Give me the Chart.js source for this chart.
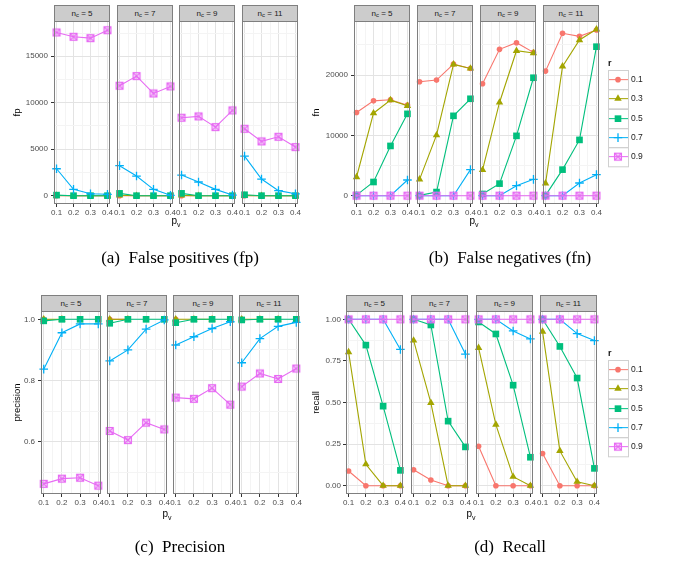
<!DOCTYPE html>
<html>
<head>
<meta charset="utf-8">
<script src="https://cdn.jsdelivr.net/npm/chart.js@4/dist/chart.umd.min.js"></script>
<style>
  body { margin: 0; background: #fff; }
  #fig { position: relative; width: 676px; height: 563px; overflow: hidden; font-family: "Liberation Sans", Arial, sans-serif; }
  #fig canvas { position: absolute; }
  .strip { position: absolute; box-sizing: border-box; background: #cccccc; border: 1px solid #7f7f7f;
           font-size: 8px; color: #1a1a1a; text-align: center; white-space: nowrap; }
  .strip sub { font-size: 6px; vertical-align: -1px; line-height: 0; }
  .xtitle { position: absolute; font-size: 10px; color: #000; transform: translate(-50%, -50%); white-space: nowrap; }
  .xtitle sub { font-size: 7px; line-height: 0; }
  .caption { position: absolute; font-family: "Liberation Serif", "Times New Roman", serif; font-size: 17px;
             color: #000; white-space: pre; transform: translate(-50%, -50%); }
</style>
</head>
<body>
<div id="fig"></div>
<script>
//Facets and x values
const pvValues = [0.1, 0.2, 0.3, 0.4];
const ncValues = [5, 7, 9, 11];
const rValues = ['0.1', '0.3', '0.5', '0.7', '0.9'];

//Every series: one row per n_c facet (5, 7, 9, 11), one value per p_v
//False positives
const fpR01 = [[0, 0, 0, 0], [0, 0, 0, 0], [0, 0, 0, 0], [0, 0, 0, 0]];
const fpR03 = [[20, 0, 0, 0], [40, 0, 0, 0], [30, 0, 0, 0], [20, 0, 0, 0]];
const fpR05 = [[60, 0, 0, 0], [250, 0, 0, 0], [250, 0, 0, 0], [100, 0, 0, 0]];
const fpR07 = [[2900, 680, 200, 150], [3230, 2110, 680, 40], [2220, 1470, 680, 70], [4260, 1790, 540, 200]];
const fpR09 = [[17560, 17100, 16950, 17800], [11830, 12870, 11000, 11760], [8390, 8530, 7380, 9175], [7200, 5840, 6340, 5230]];

//False negatives
const fnR01 = [[13800, 15730, 15900, 15010], [18900, 19170, 21830, 21100], [18560, 24270, 25370, 23770], [20660, 26930, 26430, 27480]];
const fnR03 = [[3100, 13680, 15840, 14900], [2700, 10030, 21770, 21100], [4270, 15460, 24040, 23650], [2050, 21440, 25820, 27590]];
const fnR05 = [[100, 2270, 8250, 13570], [50, 600, 13240, 16070], [280, 2000, 9920, 19560], [50, 4320, 9250, 24710]];
const fnR07 = [[0, 0, 0, 2600], [0, 0, 0, 4320], [0, 0, 1660, 2710], [0, 0, 2100, 3490]];
const fnR09 = [[0, 0, 0, 0], [0, 0, 0, 0], [0, 0, 0, 0], [0, 0, 0, 0]];

//Precision (null where nothing was found)
const precR01 = [[1, null, null, null], [1, 1, null, null], [1, null, null, null], [1, null, null, null]];
const precR03 = [[1, 1, null, null], [1, 1, null, null], [1, 1, 1, null], [1, 1, 1, null]];
const precR05 = [[0.995, 1, 1, 1], [0.987, 1, 1, 1], [0.989, 1, 1, 1], [0.998, 1, 1, 1]];
const precR07 = [[0.837, 0.956, 0.985, 0.985], [0.864, 0.900, 0.968, 0.998], [0.916, 0.943, 0.970, 0.992], [0.858, 0.937, 0.977, 0.990]];
const precR09 = [[0.462, 0.479, 0.482, 0.456], [0.635, 0.605, 0.662, 0.640], [0.744, 0.740, 0.775, 0.721], [0.780, 0.823, 0.805, 0.839]];

//Recall
const recR01 = [[0.088, 0, 0, 0], [0.096, 0.034, 0, 0], [0.237, 0, 0, 0], [0.193, 0, 0, 0]];
const recR03 = [[0.803, 0.129, 0, 0], [0.873, 0.498, 0, 0], [0.829, 0.367, 0.054, 0], [0.926, 0.209, 0.024, 0]];
const recR05 = [[1, 0.845, 0.478, 0.092], [1, 0.966, 0.388, 0.233], [0.984, 0.912, 0.604, 0.171], [1, 0.837, 0.647, 0.104]];
const recR07 = [[1, 1, 1, 0.819], [1, 1, 1, 0.791], [1, 1, 0.930, 0.882], [1, 1, 0.914, 0.872]];
const recR09 = [[1, 1, 1, 1], [1, 1, 1, 1], [1, 1, 1, 1], [1, 1, 1, 1]];

//Ticks
const xMajorTicks = [0.1, 0.2, 0.3, 0.4];
const xMinorTicks = [0.15, 0.25, 0.35];
const xTickLabels = ['0.1', '0.2', '0.3', '0.4'];
const fpMajorTicks = [0, 5000, 10000, 15000];
const fpMinorTicks = [2500, 7500, 12500, 17500];
const fpTickLabels = ['0', '5000', '10000', '15000'];
const fnMajorTicks = [0, 10000, 20000];
const fnMinorTicks = [5000, 15000, 25000];
const fnTickLabels = ['0', '10000', '20000'];
const precMajorTicks = [0.6, 0.8, 1.0];
const precMinorTicks = [0.5, 0.7, 0.9];
const precTickLabels = ['0.6', '0.8', '1.0'];
const recMajorTicks = [0, 0.25, 0.5, 0.75, 1];
const recMinorTicks = [0.125, 0.375, 0.625, 0.875];
const recTickLabels = ['0.00', '0.25', '0.50', '0.75', '1.00'];

//ggplot hue colours, one per r
const colors = ['#F8766D', '#A3A500', '#00BF7D', '#00B0F6', '#E76BF3'];
const font = '"Liberation Sans", Arial, sans-serif';
Chart.defaults.font.family = font;

//square with a cross in it (shape 7), drawn once as a point style image
function squareCross(color) {
  const c = document.createElement('canvas');
  c.width = 10;
  c.height = 10;
  const g = c.getContext('2d');
  g.strokeStyle = color;
  g.fillStyle = 'rgba(231,107,243,0.25)';
  g.lineWidth = 1.1;
  g.fillRect(1.5, 1.5, 7, 7);
  g.strokeRect(1.5, 1.5, 7, 7);
  g.beginPath();
  g.moveTo(1.5, 1.5); g.lineTo(8.5, 8.5);
  g.moveTo(8.5, 1.5); g.lineTo(1.5, 8.5);
  g.stroke();
  return c;
}
const pointStyles = ['circle', 'triangle', 'rect', 'cross', squareCross(colors[4])];
const pointRadii = [2.8, 4.3, 4.7, 4.3, 4.5];
const pointBorders = [0, 0, 0, 1.3, 0];

//the four sub figures: data plus where they sit on the page
const subplots = [
  { title: 'fp', series: [fpR01, fpR03, fpR05, fpR07, fpR09], yMin: -895, yMax: 18795,
    yMajor: fpMajorTicks, yMinor: fpMinorTicks, yLabels: fpTickLabels,
    left: 54, step: 62.7, width: 55.5, stripTop: 5, top: 21, bottom: 204, titleX: 18, tickPad: 3,
    xTitle: [176, 220], caption: '(a)  False positives (fp)', capPos: [180, 258], legend: null },
  { title: 'fn', series: [fnR01, fnR03, fnR05, fnR07, fnR09], yMin: -1380, yMax: 28970,
    yMajor: fnMajorTicks, yMinor: fnMinorTicks, yLabels: fnTickLabels,
    left: 353.5, step: 63, width: 56.3, stripTop: 5, top: 21, bottom: 204, titleX: 317, tickPad: 3,
    xTitle: [474, 220], caption: '(b)  False negatives (fn)', capPos: [510, 258], legend: { x: 608, y: 70 } },
  { title: 'precision', series: [precR01, precR03, precR05, precR07, precR09], yMin: 0.4288, yMax: 1.0272,
    yMajor: precMajorTicks, yMinor: precMinorTicks, yLabels: precTickLabels,
    left: 41.3, step: 65.9, width: 60, stripTop: 295, top: 311, bottom: 494, titleX: 17.5, tickPad: 3,
    xTitle: [167, 513], caption: '(c)  Precision', capPos: [180, 547], legend: null },
  { title: 'recall', series: [recR01, recR03, recR05, recR07, recR09], yMin: -0.05, yMax: 1.05,
    yMajor: recMajorTicks, yMinor: recMinorTicks, yLabels: recTickLabels,
    left: 346, step: 64.8, width: 56.6, stripTop: 295, top: 311, bottom: 494, titleX: 317, tickPad: 2,
    xTitle: [471, 513], caption: '(d)  Recall', capPos: [510, 547], legend: { x: 608, y: 360 } },
];

//panel border like theme_bw
const panelBorder = {
  id: 'panelBorder',
  afterDatasetsDraw(chart) {
    const { ctx, chartArea: a } = chart;
    ctx.save();
    ctx.strokeStyle = '#7f7f7f';
    ctx.lineWidth = 1;
    ctx.strokeRect(a.left + 0.5, a.top + 0.5, a.right - a.left - 1, a.bottom - a.top - 1);
    ctx.restore();
  },
};

//ggplot style legend with keys in boxes
const rLegend = {
  id: 'rLegend',
  afterDraw(chart, args, opts) {
    if (!opts.at) return;
    const ctx = chart.ctx;
    const { x, y } = opts.at;
    const keyW = 20, keyH = 19.3;
    ctx.save();
    ctx.font = 'bold 9px ' + font;
    ctx.fillStyle = '#111';
    ctx.textBaseline = 'alphabetic';
    ctx.fillText('r', x, y - 4);
    chart.data.datasets.forEach((ds, i) => {
      const top = Math.round(y + i * keyH);
      const cx = x + keyW / 2, cy = top + keyH / 2;
      ctx.strokeStyle = '#d0d0d0';
      ctx.lineWidth = 1;
      ctx.strokeRect(x + 0.5, top + 0.5, keyW, keyH);
      ctx.strokeStyle = ds.borderColor;
      ctx.beginPath();
      ctx.moveTo(x + 1, cy);
      ctx.lineTo(x + keyW, cy);
      ctx.stroke();
      ctx.fillStyle = ds.pointBackgroundColor;
      ctx.strokeStyle = ds.pointBorderColor;
      ctx.lineWidth = ds.pointBorderWidth;
      Chart.helpers.drawPoint(ctx, { pointStyle: ds.pointStyle, radius: ds.pointRadius,
        borderWidth: ds.pointBorderWidth, rotation: 0 }, cx, cy);
      ctx.fillStyle = '#222';
      ctx.font = '8.5px ' + font;
      ctx.textBaseline = 'middle';
      ctx.fillText(rValues[i], x + keyW + 3, cy);
    });
    ctx.restore();
  },
};

const fig = document.getElementById('fig');

function addDiv(cls, html, css) {
  const d = document.createElement('div');
  d.className = cls;
  d.innerHTML = html;
  Object.assign(d.style, css);
  fig.appendChild(d);
}

function setTicks(majors, minors) {
  return (scale) => {
    scale.ticks = majors.concat(minors).sort((a, b) => a - b)
      .map((v) => ({ value: v, major: majors.includes(v) }));
  };
}

function buildFacet(sp, j) {
  const first = j === 0;
  const last = j === ncValues.length - 1;
  const pl = Math.round(sp.left + j * sp.step);
  const pw = Math.round(sp.width);
  const pt = sp.top, pb = sp.bottom;
  const leftM = first ? pl - Math.round(sp.titleX - 5.7) : 8;
  const rightM = last && sp.legend ? 80 : 8;
  const topM = 8, bottomM = 22;

  const cv = document.createElement('canvas');
  cv.width = leftM + pw + rightM;
  cv.height = topM + (pb - pt) + bottomM;
  cv.style.left = (pl - leftM) + 'px';
  cv.style.top = (pt - topM) + 'px';
  fig.appendChild(cv);

  //facet strip
  addDiv('strip', 'n<sub>c</sub> = ' + ncValues[j], {
    left: pl + 'px', top: sp.stripTop + 'px', width: pw + 'px',
    height: (pt - sp.stripTop + 1) + 'px', lineHeight: (pt - sp.stripTop - 1) + 'px',
  });

  const gridColor = (ctx) => (ctx.tick && ctx.tick.major ? '#e3e3e3' : '#f4f4f4');
  const tickColor = (ctx) => (ctx.tick && ctx.tick.major ? '#333333' : 'rgba(0,0,0,0)');

  const datasets = rValues.map((r, i) => ({
    label: r,
    data: pvValues.map((pv, k) => ({ x: pv, y: sp.series[i][j][k] })),
    borderColor: colors[i],
    backgroundColor: colors[i],
    borderWidth: 1.1,
    pointStyle: pointStyles[i],
    pointRadius: pointRadii[i],
    pointBorderWidth: pointBorders[i],
    pointBackgroundColor: colors[i],
    pointBorderColor: colors[i],
    spanGaps: false,
    clip: 8,
    order: rValues.length - 1 - i, //0.9 drawn last, as ggplot does
  }));

  new Chart(cv, {
    type: 'line',
    data: { datasets },
    plugins: [panelBorder, rLegend],
    options: {
      responsive: false,
      animation: false,
      events: [],
      layout: { padding: { top: topM, right: rightM, left: 0, bottom: 0 } },
      plugins: {
        legend: { display: false },
        tooltip: { enabled: false },
        rLegend: { at: last && sp.legend ? { x: sp.legend.x - (pl - leftM), y: sp.legend.y - (pt - topM) } : null },
      },
      scales: {
        x: {
          type: 'linear',
          min: 0.085,
          max: 0.415,
          afterBuildTicks: setTicks(xMajorTicks, xMinorTicks),
          afterFit: (s) => { s.height = bottomM; },
          border: { display: false },
          grid: { color: gridColor, tickColor, tickLength: 3, lineWidth: 1 },
          ticks: {
            autoSkip: false, maxRotation: 0, minRotation: 0, padding: 1,
            color: '#4d4d4d', font: { size: 8 },
            callback: (v) => xTickLabels[xMajorTicks.indexOf(v)] || '',
          },
        },
        y: {
          type: 'linear',
          min: sp.yMin,
          max: sp.yMax,
          afterBuildTicks: setTicks(sp.yMajor, sp.yMinor),
          afterFit: (s) => { s.width = leftM; },
          border: { display: false },
          grid: { color: gridColor, tickColor, tickLength: 3, lineWidth: 1, drawTicks: first },
          ticks: {
            display: first, autoSkip: false, padding: sp.tickPad,
            color: '#4d4d4d', font: { size: 8 },
            callback: (v) => {
              const k = sp.yMajor.indexOf(v);
              return k >= 0 ? sp.yLabels[k] : '';
            },
          },
          title: { display: first, text: sp.title, color: '#000', font: { size: 9.5 }, padding: 0 },
        },
      },
    },
  });
}

subplots.forEach((sp) => {
  ncValues.forEach((nc, j) => buildFacet(sp, j));
  addDiv('xtitle', 'p<sub>v</sub>', { left: sp.xTitle[0] + 'px', top: sp.xTitle[1] + 'px' });
  addDiv('caption', sp.caption, { left: sp.capPos[0] + 'px', top: sp.capPos[1] + 'px' });
});
</script>
</body>
</html>
